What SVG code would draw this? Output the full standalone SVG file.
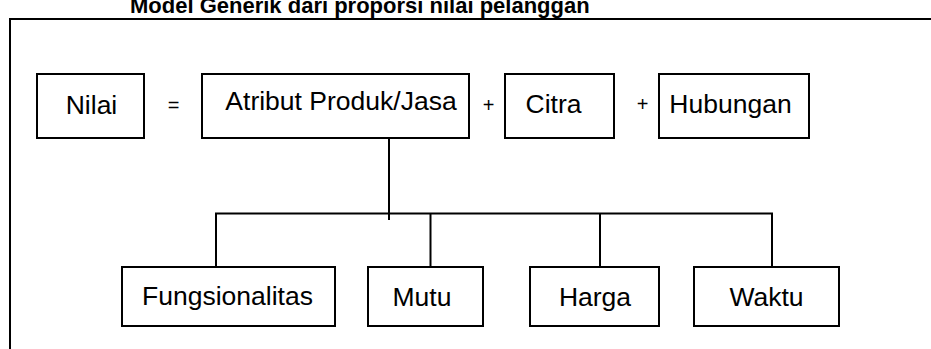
<svg xmlns="http://www.w3.org/2000/svg" width="931" height="349" viewBox="0 0 931 349">
<style>
.box{fill:#fff;stroke:#000;stroke-width:2}
.t{font-family:"Liberation Sans",Arial,sans-serif;font-size:26.5px;fill:#000;text-anchor:middle}
.op{font-family:"Liberation Sans",Arial,sans-serif;font-size:20px;fill:#000;text-anchor:middle}
.ttl{font-family:"Liberation Sans",Arial,sans-serif;font-size:22px;font-weight:bold;fill:#000}
.ln{fill:none;stroke:#000;stroke-width:2}
</style>
<rect width="931" height="349" fill="#fff"/>
<text class="ttl" x="130" y="13">Model Generik dari proporsi nilai pelanggan</text>
<rect x="0" y="19" width="931" height="3" fill="#fff"/>
<path class="ln" d="M10 349 V19 H931"/>
<g id="connectors">
<path class="ln" d="M389 138 V220"/>
<path class="ln" d="M216 267 V213.5 H772 V267"/>
<path class="ln" d="M430.5 213.5 V267"/>
<path class="ln" d="M600 213.5 V267"/>
</g>
<g id="nilai"><rect class="box" x="37" y="74" width="107" height="64"/><text class="t" x="91.5" y="114">Nilai</text></g>
<g id="eq"><text class="op" x="173.5" y="112">=</text></g>
<g id="atribut"><rect class="box" x="202" y="74" width="267" height="64"/><text class="t" x="341" y="110">Atribut Produk/Jasa</text></g>
<g id="plus1"><text class="op" x="488.5" y="112">+</text></g>
<g id="citra"><rect class="box" x="505" y="74" width="109" height="64"/><text class="t" x="553.5" y="113">Citra</text></g>
<g id="plus2"><text class="op" x="642.5" y="111">+</text></g>
<g id="hubungan"><rect class="box" x="659" y="74" width="150" height="64"/><text class="t" x="730.5" y="113">Hubungan</text></g>
<g id="fungsionalitas"><rect class="box" x="122" y="267" width="213" height="59"/><text class="t" x="227.5" y="305">Fungsionalitas</text></g>
<g id="mutu"><rect class="box" x="368" y="267" width="115" height="59"/><text class="t" x="422" y="306">Mutu</text></g>
<g id="harga"><rect class="box" x="530" y="267" width="129" height="59"/><text class="t" x="595" y="306">Harga</text></g>
<g id="waktu"><rect class="box" x="694" y="267" width="145" height="59"/><text class="t" x="766.5" y="306">Waktu</text></g>
</svg>
